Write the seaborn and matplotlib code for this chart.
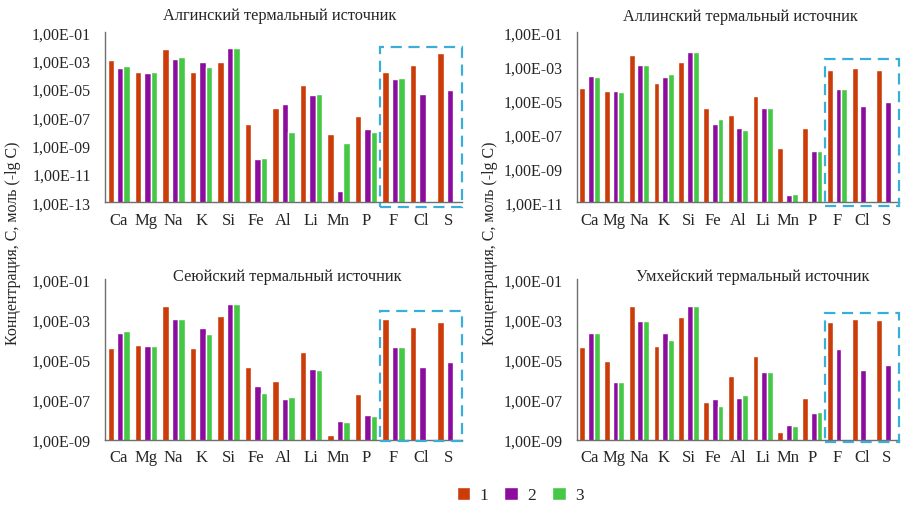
import numpy as np
import pandas as pd
import matplotlib
matplotlib.use("Agg")
import matplotlib.pyplot as plt
import matplotlib.ticker as mticker
import matplotlib.transforms as mtransforms
from matplotlib.patches import Rectangle
import seaborn as sns

sns.set_style("white")
plt.rcParams['font.family'] = ['Liberation Serif', 'DejaVu Serif']

elements = ["Ca", "Mg", "Na", "K", "Si", "Fe", "Al", "Li", "Mn", "P", "F", "Cl", "S"]
series_names = ["1", "2", "3"]
nan = np.nan

titles = ["Алгинский термальный источник", "Аллинский термальный источник",
          "Сеюйский термальный источник", "Умхейский термальный источник"]
ylabel = "Концентрация, С, моль (-lg C)"

# Алгинский
alg_1 = [1.2e-3, 1.5e-4, 6.3e-3, 1.7e-4, 7.6e-4, 3.2e-8, 4.4e-7, 1.9e-5, 6.3e-9, 1.2e-7, 1.7e-4, 4.9e-4, 3.5e-3]
alg_2 = [3.2e-4, 1.3e-4, 1.3e-3, 8.5e-4, 8.3e-3, 1.1e-10, 8.3e-7, 3.8e-6, 6.0e-13, 1.5e-8, 5.1e-5, 4.7e-6, 8.9e-6]
alg_3 = [4.2e-4, 1.7e-4, 1.7e-3, 3.8e-4, 8.3e-3, 1.3e-10, 8.7e-9, 4.7e-6, 1.6e-9, 9.8e-9, 6.3e-5, nan, nan]
# Аллинский
all_1 = [5.4e-5, 3.7e-5, 4.5e-3, 1.0e-4, 1.8e-3, 3.7e-6, 1.3e-6, 1.7e-5, 1.6e-8, 2.3e-7, 6.0e-4, 7.6e-4, 5.8e-4]
all_2 = [2.8e-4, 3.7e-5, 1.15e-3, 2.2e-4, 6.9e-3, 3.9e-7, 2.3e-7, 3.5e-6, 2.7e-11, 1.0e-8, 4.6e-5, 4.5e-6, 8.0e-6]
all_3 = [2.3e-4, 3.0e-5, 1.15e-3, 3.7e-4, 6.9e-3, 8.3e-7, 1.9e-7, 3.5e-6, 3.1e-11, 1.1e-8, 4.6e-5, nan, nan]
# Сеюйский
sey_1 = [3.6e-5, 5.1e-5, 4.7e-3, 3.7e-5, 1.5e-3, 4.2e-6, 8.1e-7, 2.3e-5, 1.7e-9, 1.9e-7, 1.05e-3, 4.2e-4, 7.1e-4]
sey_2 = [2.2e-4, 4.7e-5, 1.05e-3, 3.6e-4, 6.1e-3, 4.9e-7, 1.07e-7, 3.2e-6, 8.3e-9, 1.8e-8, 4.4e-5, 4.0e-6, 7.2e-6]
sey_3 = [2.5e-4, 4.5e-5, 1.0e-3, 1.9e-4, 6.1e-3, 2.1e-7, 1.4e-7, 3.0e-6, 7.6e-9, 1.6e-8, 4.1e-5, nan, nan]
# Умхейский
umh_1 = [4.2e-5, 8.1e-6, 4.7e-3, 4.7e-5, 1.3e-3, 7.3e-8, 1.45e-6, 1.5e-5, 2.5e-9, 1.15e-7, 7.8e-4, 1.0e-3, 8.9e-4]
umh_2 = [2.0e-4, 7.2e-7, 8.0e-4, 2.0e-4, 4.9e-3, 1.1e-7, 1.2e-7, 2.5e-6, 5.6e-9, 2.1e-8, 3.3e-5, 3.1e-6, 5.5e-6]
umh_3 = [2.0e-4, 7.2e-7, 8.0e-4, 9.7e-5, 4.9e-3, 4.8e-8, 1.7e-7, 2.5e-6, 5.0e-9, 2.4e-8, nan, nan, nan]

panels = [(alg_1, alg_2, alg_3), (all_1, all_2, all_3), (sey_1, sey_2, sey_3), (umh_1, umh_2, umh_3)]
y_min_exp = [-13, -11, -9, -9]

colors = ["#CC3C08", "#8C0C9E", "#45C845"]
box_color = "#3AAED9"
axis_color = "#6F6F6F"
text_color = "#262626"

W, H = 902, 506
fig = plt.figure(figsize=(W / 100, H / 100), dpi=100)

# axes rectangles in pixels (left, top, right, bottom)
rects = [(105, 33.3, 462, 203.3), (577, 33.3, 899, 203.3),
         (105, 280.3, 462, 440.7), (577, 280.3, 899, 440.7)]
title_pos = [(280, 16), (740, 17), (287, 277), (753, 277)]
box_y = [(0.914, -0.028), (0.843, -0.02), (0.80, -0.01), (0.79, -0.015)]

fmt = mticker.FuncFormatter(lambda v, p: "1,00E-%02d" % int(round(-np.log10(v))))

for i, (vals, rect) in enumerate(zip(panels, rects)):
    l, t, r, b = rect
    ax = fig.add_axes([l / W, 1 - b / H, (r - l) / W, (b - t) / H])
    ax.set_yscale('log')
    df = pd.DataFrame({
        "element": elements * 3,
        "series": sum([[s] * len(elements) for s in series_names], []),
        "value": list(vals[0]) + list(vals[1]) + list(vals[2]),
    }).dropna()
    sns.barplot(data=df, x="element", y="value", hue="series", order=elements,
                hue_order=series_names, palette=colors, saturation=1,
                width=0.708, errorbar=None, ax=ax, legend=(i == 0))
    # shift bars: gap between series 1 and 2
    for ci, cont in enumerate(ax.containers):
        dx = -0.0545 if ci == 0 else 0.0545
        for p in cont.patches:
            p.set_x(p.get_x() + dx)
    ax.set_xlim(-0.5, 12.5)
    ax.set_ylim(10.0 ** y_min_exp[i], 1e-1)
    ax.yaxis.set_major_locator(mticker.FixedLocator([10.0 ** e for e in range(-1, y_min_exp[i] - 1, -2)]))
    ax.yaxis.set_minor_locator(mticker.NullLocator())
    ax.yaxis.set_major_formatter(fmt)
    ax.set_xticks(range(len(elements)))
    ax.set_xticks(np.arange(-0.5, 12.6, 1), minor=True)
    ax.tick_params(axis='x', which='major', length=0, pad=7, labelsize=12, labelcolor=text_color)
    ax.tick_params(axis='x', which='minor', length=4, width=1, color=axis_color, direction='out')
    ax.tick_params(axis='y', which='major', length=4, width=1, color=axis_color, direction='out',
                   pad=6, labelsize=11.5, labelcolor=text_color)
    ax.set_xlabel("")
    ax.set_ylabel("")
    for s in ["top", "right"]:
        ax.spines[s].set_visible(False)
    for s in ["left", "bottom"]:
        ax.spines[s].set_color(axis_color)
        ax.spines[s].set_linewidth(1)
    trans = mtransforms.blended_transform_factory(ax.transData, ax.transAxes)
    y1, y0 = box_y[i]
    ax.add_patch(Rectangle((9.5, y0), 3.0, y1 - y0, transform=trans, fill=False,
                           edgecolor=box_color, linewidth=1.6, linestyle=(0, (5, 3)),
                           clip_on=False, zorder=5))
    tx, ty = title_pos[i]
    fig.text(tx / W, 1 - ty / H, titles[i], ha='center', va='center', fontsize=11.8, color=text_color)
    if i == 0:
        handles, labels = ax.get_legend_handles_labels()
        ax.get_legend().remove()

fig.text(13 / W, 1 - 243 / H, ylabel, rotation=90, ha='center', va='center', fontsize=11.5, color=text_color)
fig.text(490 / W, 1 - 243 / H, ylabel, rotation=90, ha='center', va='center', fontsize=11.5, color=text_color)

fig.legend(handles, labels, loc='center', bbox_to_anchor=(520 / W, 1 - 496 / H), ncol=3,
           frameon=False, handlelength=0.8, handleheight=0.8, handletextpad=0.5,
           columnspacing=0.95, fontsize=12.5, labelcolor=text_color)

fig.savefig("out.png", dpi=100)
